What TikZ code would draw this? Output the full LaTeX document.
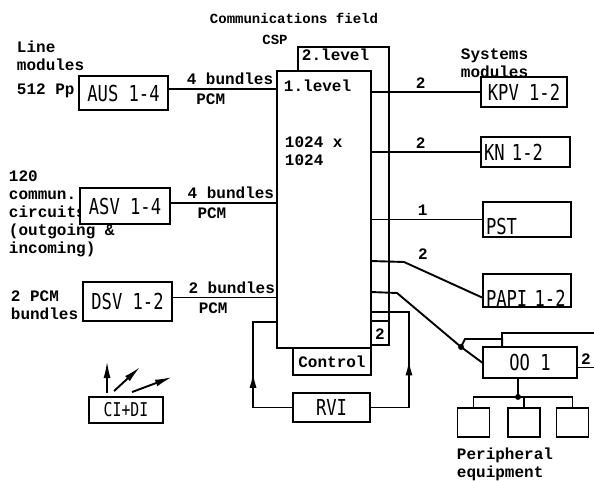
\documentclass[tikz,border=0pt]{standalone}
\usepackage{fontspec}
\setmonofont{Liberation Mono}
\newfontfamily\unitface[FakeStretch=0.78]{DejaVu Sans Mono}
\usetikzlibrary{calc,arrows.meta,decorations.markings}

\newcommand\labelfont{\ttfamily\bfseries\fontsize{16}{18}\selectfont}
\newcommand\unitfont{\unitface\fontsize{22}{22}\selectfont}

\begin{document}
\begin{tikzpicture}[x=1pt,y=-1pt,line width=1.9pt]
\tikzstyle{unit}=[draw,fill=white,inner sep=2pt,font=\unitfont]
\tikzstyle{txt}=[inner sep=0pt,font=\labelfont,align=left]
\tikzstyle{ray}=[-{Latex[length=17pt,width=7pt]}]
\tikzstyle{feed}=[postaction={decorate},decoration={markings,
    mark=at position 0.5 with {\arrow{Latex[length=15pt,width=7pt]}}}]

\useasboundingbox (0,0) rectangle (594,481);

%% Communications field (two levels)
\node[txt,font=\ttfamily\bfseries\fontsize{14}{16}\selectfont,anchor=base] (title) at (294,24) {Communications field};
\node[txt,font=\ttfamily\bfseries\fontsize{14}{16}\selectfont,anchor=base] (cspname) at (275,45) {CSP};
\node[draw,fill=white,minimum width=91pt,minimum height=298pt] (lvl2) at (343.5,196) {};
\node[txt,anchor=base west] (lvl2txt) at (301,61) {2.level};
\node[draw,fill=white,minimum width=94pt,minimum height=277pt] (csp) at (324,209.5) {};
\node[txt,anchor=base west] (lvl1txt) at (283,92) {1.level};
\node[txt,anchor=north west] (size) at (284,136) {1024 x\\1024};

\coordinate (tap2) at ($(csp.north east)+(0,251)$);
\draw (tap2) -- (tap2 -| lvl2.east);
\node[txt] (lvl2n) at (380,334) {2};

\node[unit,font=\labelfont,minimum width=78pt,minimum height=27pt] (ctrl) at (332,361.5) {Control};
\node[unit,minimum width=77pt,minimum height=29pt] (rvi) at (331.5,407.5) {RVI};

%% Line modules
\node[txt,anchor=north west] (linemod) at (16,40) {Line\\modules\\[6pt]512 Pp};
\node[txt,anchor=north west] (commun) at (8,170) {120\\commun.\\circuits\\(outgoing \&\\incoming)};
\node[txt,anchor=north west] (pcmbun) at (10,290) {2 PCM\\bundles};

\node[unit,minimum width=89pt,minimum height=34pt] (aus) at (123.5,93) {AUS 1-4};
\node[unit,minimum width=90pt,minimum height=36pt] (asv) at (125,206) {ASV 1-4};
\node[unit,minimum width=89pt,minimum height=39pt] (dsv) at (127.5,301.5) {DSV 1-2};
\node[unit,font=\unitface\fontsize{19}{19}\selectfont,minimum width=74pt,minimum height=26pt] (cidi) at (126,410) {CI+DI};

\draw ([yshift=4pt]aus.east) -- ([yshift=4pt]aus.east -| csp.west)
    node[txt,pos=.57,above=3pt] (ausbun) {4 bundles}
    node[txt,pos=.39,below=4pt] (auspcm) {PCM};
\draw ([yshift=3pt]asv.east) -- ([yshift=3pt]asv.east -| csp.west)
    node[txt,pos=.57,above=3pt] (asvbun) {4 bundles}
    node[txt,pos=.39,below=4pt] (asvpcm) {PCM};
\draw ([yshift=4pt]dsv.east) -- ([yshift=4pt]dsv.east -| csp.west)
    node[txt,pos=.57,above=3pt] (dsvbun) {2 bundles}
    node[txt,pos=.39,below=4pt] (dsvpcm) {PCM};

% CI+DI outputs
\draw[ray] ($(cidi.north west)+(19,-3)$) -- ++(0,-32);
\draw[ray] ($(cidi.north west)+(26,-5)$) -- ++(26,-24);
\draw[ray] ($(cidi.north west)+(44,-4)$) -- ++(40,-15);

%% Systems modules
\node[txt,anchor=north west] (sysmod) at (460,48) {Systems\\modules};
\node[unit,minimum width=86pt,minimum height=30pt] (kpv) at (524,92) {KPV 1-2};
\node[unit,align=left,text width=83pt,inner xsep=3pt,minimum height=30pt] (kn) at (525.5,152) {KN 1-2};
\node[unit,align=left,text width=82pt,inner xsep=3pt,inner ysep=0pt,minimum height=35pt,
      text height=29pt,text depth=0pt] (pst) at (527,219.5) {PST};
\node[unit,align=left,text width=82pt,inner xsep=3pt,inner ysep=0pt,minimum height=33pt,
      text height=31pt,text depth=0pt] (papi) at (527,290.5) {PAPI 1-2};
\node[unit,minimum width=94pt,minimum height=31pt] (od) at (530,362.5) {OO 1};

\draw (kpv.west) -- (kpv.west -| csp.east) node[txt,pos=.55,above=3pt] (kpvn) {2};
\draw (kn.west) -- (kn.west -| csp.east) node[txt,pos=.55,above=3pt] (knn) {2};
\draw (pst.west) -- (pst.west -| csp.east) node[txt,pos=.54,above=3pt] (pstn) {1};

\coordinate (tappapi) at ($(csp.north east)+(0,191)$);
\draw ([yshift=-7pt]papi.west) -- ++(-78,-35.5) -- (tappapi);
\node[txt,anchor=base] (papin) at (423,259) {2};

\coordinate (odjct) at ($(od.west)+(-21,-15.5)$);
\coordinate (tapod) at ($(csp.north east)+(0,222)$);
\draw (od.west) -- (odjct) -- ++(-64,-54) -- (tapod);
\fill (odjct) circle (3pt);

\coordinate (odtap) at ($(od.north west)+(20,0)$);
\coordinate (edgea) at (594,333);
\coordinate (edgeb) at (594,367.5);
\draw (odjct) -- ++(4,-8) -| (odtap);
\draw (odtap) |- (edgea);
\draw ([yshift=-5pt]od.east) -- (edgeb) node[txt,pos=.5,above=2pt] (odn) {2};

%% Peripheral equipment
\foreach \n/\x in {1/473.5,2/524,3/572.5}
    \node[unit,minimum width=32pt,minimum height=29pt] (per\n) at (\x,422.5) {};
\coordinate (pbus) at ($(od.south)+(-12,18)$);
\draw ([xshift=-12pt]od.south) -- (pbus);
\draw (per1.north) |- (pbus) -| (per3.north);
\draw (per2.north) -- (per2.north |- pbus);
\fill (pbus) circle (3pt);
\node[txt,anchor=north west] (periph) at (456,447) {Peripheral\\equipment};

%% Control loop through RVI
\coordinate (tapl) at ($(csp.north west)+(0,252)$);
\coordinate (taprvi) at ($(csp.north east)+(0,242)$);
\draw[feed] (rvi.west) -- ++(-39,0) |- (tapl);
\draw[feed] (rvi.east) -- ++(38,0) |- (taprvi);

\end{tikzpicture}
\end{document}
